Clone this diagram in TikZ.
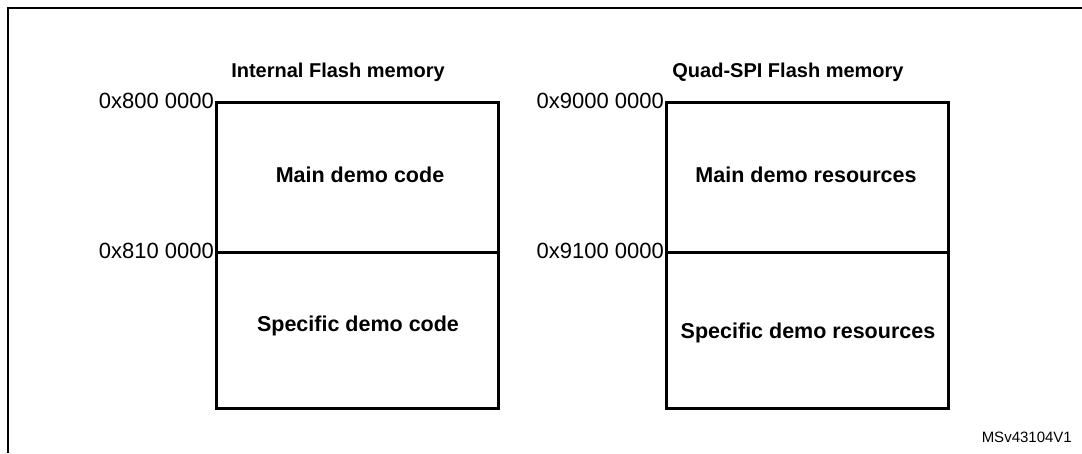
\documentclass[tikz,border=0pt]{standalone}
\usepackage{fontspec}
\setmainfont{Liberation Sans}
\begin{document}
\begin{tikzpicture}[x=1pt,y=-1pt,
  region/.style={draw,line width=3pt,minimum width=282pt,inner sep=0pt,anchor=north west},
  inside/.style={font=\fontsize{21.5}{25}\selectfont\bfseries},
  heading/.style={font=\fontsize{20}{24}\selectfont\bfseries},
  addr/.style={anchor=east,inner sep=1pt,font=\fontsize{22}{26}\selectfont},
  tag/.style={anchor=east,inner sep=0pt,font=\fontsize{15}{18}\selectfont}]
\useasboundingbox (0,0) rectangle (1082,453);
% outer figure frame
\draw[line width=2pt] (7.5,453) -- (7.5,7.5) -- (1082,7.5);

% internal flash
\node[region,minimum height=150pt] (imain) at (215,101) {};
\node[region,minimum height=156pt] (ispec) at (215,251) {};
\node[inside] (itxt1) at (360,175) {Main demo code};
\node[inside] (itxt2) at (358,326) {Specific demo code};
\node[heading] (ihead) at (338,72) {Internal Flash memory};
\node[addr] (a1) at (imain.north west) {0x800 0000};
\node[addr] (a2) at (ispec.north west) {0x810 0000};

% quad-spi flash
\node[region,minimum height=150pt] (qmain) at (665,101) {};
\node[region,minimum height=156pt] (qspec) at (665,251) {};
\node[inside] (qtxt1) at (806,175) {Main demo resources};
\node[inside] (qtxt2) at (808,333) {Specific demo resources};
\node[heading] (qhead) at (788,72) {Quad-SPI Flash memory};
\node[addr] (b1) at (qmain.north west) {0x9000 0000};
\node[addr] (b2) at (qspec.north west) {0x9100 0000};

\node[tag] (ref) at (1072,437) {MSv43104V1};
\end{tikzpicture}
\end{document}
